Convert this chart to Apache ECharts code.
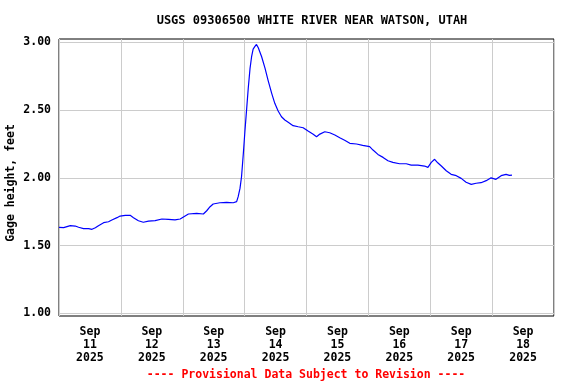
<!DOCTYPE html>
<html>
<head>
<meta charset="utf-8">
<script src="https://cdn.jsdelivr.net/npm/echarts@6/dist/echarts.min.js"></script>
<style>html,body{margin:0;padding:0;background:#fff;}#c{width:576px;height:384px;}</style>
</head>
<body>
<div id="c"></div>
<script>
// hours since 2025-09-11 00:00
var hours = [0,1.8,4.4,6.3,7.6,9.5,11.5,12.8,14.1,15.3,17.3,19.2,20.5,22.5,23.7,25.7,27.6,28.9,30.8,32.7,34.7,37.3,39.9,42.4,45.0,47.0,50.2,53.4,56.0,57.3,58.6,59.8,62.4,65.0,67.6,68.9,69.5,70.2,70.8,71.5,72.1,72.8,73.4,74.1,74.7,75.3,76.0,76.6,77.3,78.6,79.9,81.1,82.5,83.7,85.0,86.3,87.6,88.9,90.8,92.8,94.7,96.6,98.6,99.9,101.2,103.1,105.0,107.0,108.9,110.8,112.8,115.4,117.8,120.5,121.8,123.7,125.7,127.6,129.5,132.1,134.7,136.6,139.2,141.8,143.1,144.4,145.7,146.9,148.3,150.2,152.1,154.1,156.0,157.9,159.9,161.8,163.7,165.7,167.6,169.5,171.5,173.4,174.7,175.7];
var gage = [1.635,1.632,1.647,1.644,1.635,1.625,1.625,1.62,1.632,1.647,1.669,1.676,1.689,1.706,1.718,1.723,1.723,1.706,1.683,1.672,1.681,1.684,1.696,1.694,1.689,1.696,1.733,1.738,1.733,1.757,1.787,1.807,1.816,1.819,1.816,1.824,1.861,1.922,2.008,2.18,2.34,2.513,2.66,2.808,2.894,2.95,2.97,2.985,2.96,2.894,2.81,2.72,2.624,2.55,2.493,2.451,2.427,2.41,2.385,2.377,2.37,2.345,2.321,2.303,2.323,2.34,2.333,2.316,2.296,2.277,2.255,2.25,2.24,2.23,2.205,2.173,2.151,2.126,2.114,2.104,2.104,2.094,2.094,2.087,2.077,2.114,2.137,2.111,2.087,2.052,2.026,2.016,1.996,1.967,1.952,1.96,1.964,1.979,2.0,1.989,2.016,2.026,2.018,2.02];
var dayLabels = ['11','12','13','14','15','16','17','18'];
var yTicks = [1.0,1.5,2.0,2.5,3.0];
var titleText = 'USGS 09306500 WHITE RIVER NEAR WATSON, UTAH';
var yName = 'Gage height, feet';
var footer = '---- Provisional Data Subject to Revision ----';

var labelCenters = dayLabels.map(function(d,i){return 12+24*i;});
var font = 'DejaVu Sans Mono';
var chart = echarts.init(document.getElementById('c'), null, {renderer:'canvas'});
chart.setOption({
  animation:false,
  backgroundColor:'#fff',
  title:{text:titleText,left:307,textAlign:'center',top:10,
    textStyle:{fontFamily:font,fontWeight:'bold',fontSize:12,color:'#000'}},
  grid:{left:59,right:22,top:39,bottom:68,show:true,borderColor:'#000',borderWidth:1,backgroundColor:'transparent'},
  xAxis:{type:'value',min:0,max:192,interval:24,
    axisLine:{show:false},axisTick:{show:false},
    splitLine:{show:true,lineStyle:{color:'#cccccc',width:1}},
    axisLabel:{customValues:labelCenters,margin:10,lineHeight:13,
      fontFamily:font,fontWeight:'bold',fontSize:11.5,color:'#000',
      formatter:function(v){var i=Math.round((v-12)/24);return 'Sep\n'+dayLabels[i]+'\n2025';}}},
  yAxis:{type:'value',min:0.98,max:3.025,
    axisLine:{show:false},axisTick:{show:false,customValues:yTicks},
    splitLine:{show:true,lineStyle:{color:'#cccccc',width:1}},
    axisLabel:{customValues:yTicks,margin:8,fontFamily:font,fontWeight:'bold',fontSize:11.5,color:'#000',
      formatter:function(v){return v.toFixed(2);}}},
  series:[{type:'line',data:hours.map(function(h,i){return [h,gage[i]];}),
    showSymbol:false,lineStyle:{color:'#0000ff',width:1.2},itemStyle:{color:'#0000ff'}}],
  graphic:[
    {type:'text',x:11,y:183,rotation:Math.PI/2,
      style:{text:yName,fontFamily:font,fontWeight:'bold',fontSize:11.5,fill:'#000',align:'center',verticalAlign:'middle'}},
    {type:'text',x:306,y:375,
      style:{text:footer,fontFamily:font,fontWeight:'bold',fontSize:11.5,fill:'#ff0000',align:'center',verticalAlign:'middle'}}
  ]
});
</script>
</body>
</html>
